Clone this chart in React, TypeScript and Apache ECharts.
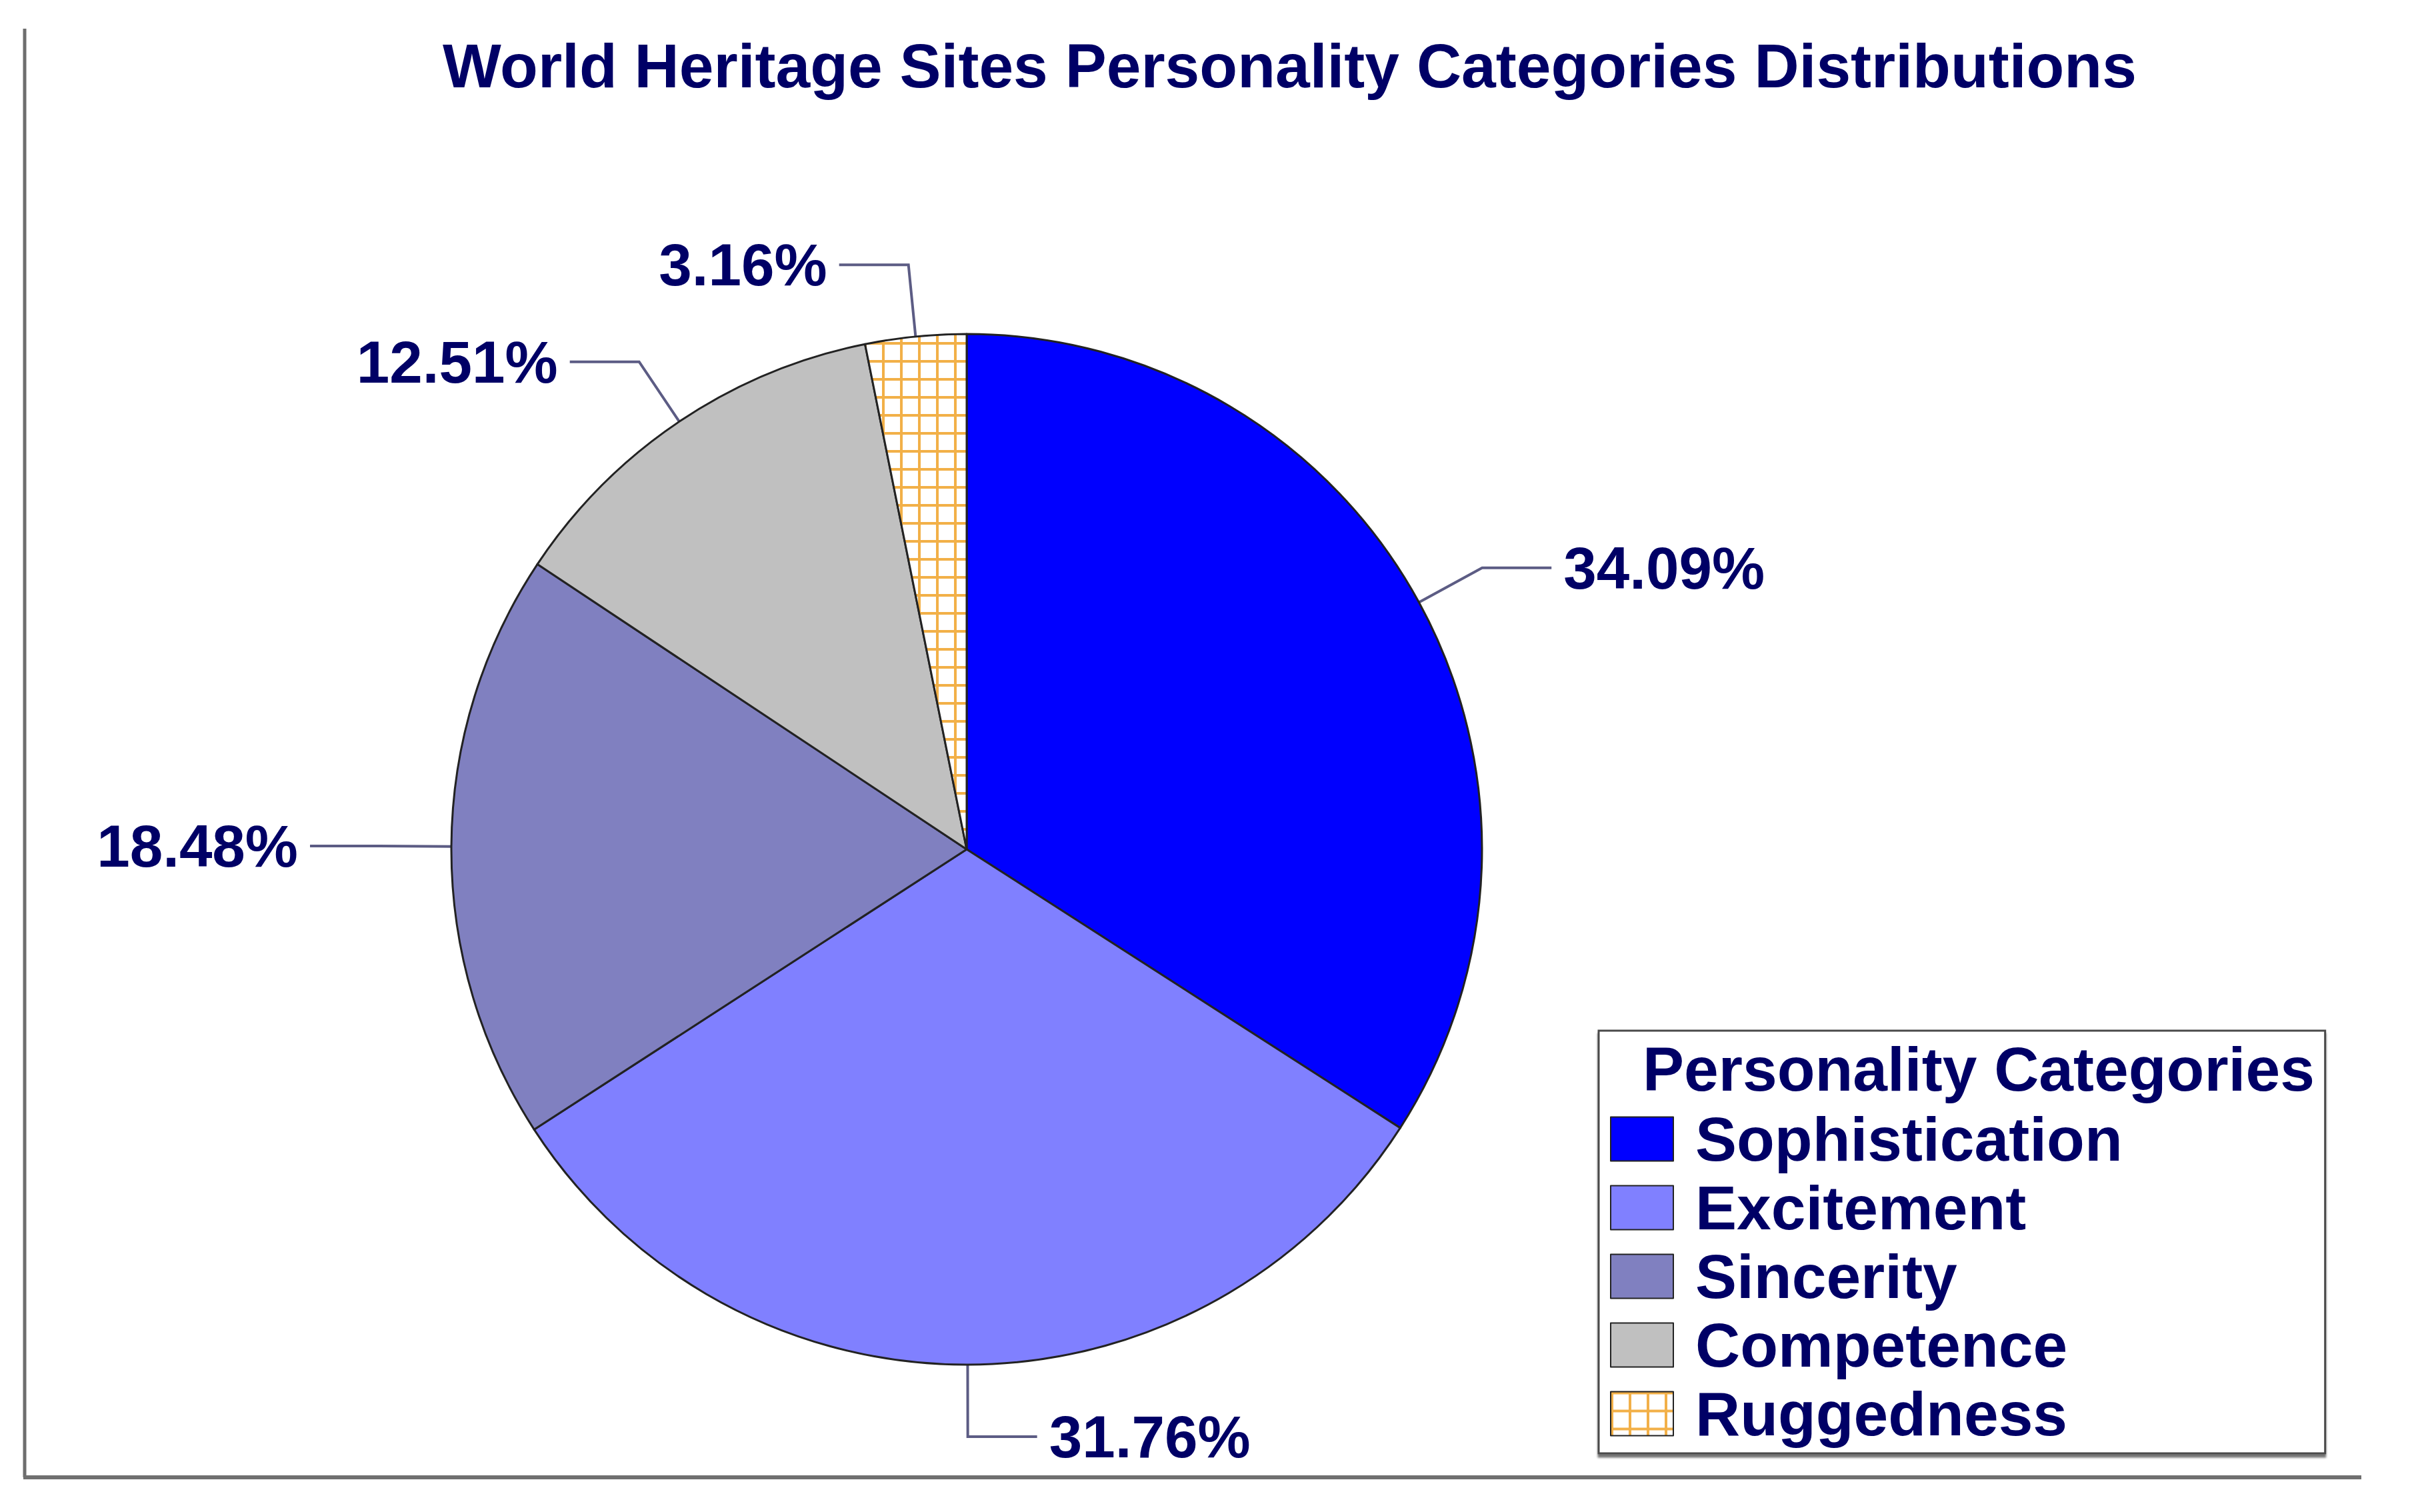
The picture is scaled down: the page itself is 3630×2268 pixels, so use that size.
import React, { useEffect, useRef } from "react";
import * as echarts from "echarts";

const categories = ["Sophistication", "Excitement", "Sincerity", "Competence", "Ruggedness"];
const percentages = [34.09, 31.76, 18.48, 12.51, 3.16];
const sliceColors = ["#0000FF", "#8080FF", "#8080C0", "#C0C0C0", null];
const chartTitle = "World Heritage Sites Personality Categories Distributions";
const legendTitle = "Personality Categories";

const NAVY = "#000066";
const FONT = '"Liberation Sans", Arial, sans-serif';

function makeGridPattern() {
  const size = 27;
  const c = document.createElement("canvas");
  c.width = size;
  c.height = size;
  const ctx = c.getContext("2d")!;
  ctx.fillStyle = "#ffffff";
  ctx.fillRect(0, 0, size, size);
  ctx.fillStyle = "#F2B048";
  ctx.fillRect(0, 0, 4, size);
  ctx.fillRect(0, 0, size, 4);
  return { image: c, repeat: "repeat", imageWidth: size, imageHeight: size };
}

export default function App() {
  const ref = useRef<HTMLDivElement>(null);
  useEffect(() => {
    if (!ref.current) return;
    const chart = echarts.init(ref.current, null, { renderer: "svg" });
    const pattern = makeGridPattern();
    const data = categories.map((name, i) => ({
      name,
      value: percentages[i],
      itemStyle: { color: sliceColors[i] ?? (pattern as any) },
    }));
    chart.setOption({
      animation: false,
      backgroundColor: "#ffffff",
      title: [
        {
          text: chartTitle,
          left: 664,
          top: 52,
          padding: 0,
          textStyle: { color: NAVY, fontSize: 93, fontWeight: "bold", fontFamily: FONT },
        },
        {
          text: legendTitle,
          left: 2464,
          top: 1557,
          padding: 0,
          z: 5,
          textStyle: { color: NAVY, fontSize: 93, fontWeight: "bold", fontFamily: FONT },
        },
      ],
      legend: {
        orient: "vertical",
        left: 2398,
        top: 1546,
        height: 700,
        padding: [116, 304, 13, 17],
        itemWidth: 94,
        itemHeight: 66,
        itemGap: 10,
        icon: "rect",
        selectedMode: false,
        borderColor: "#4a4a4a",
        borderWidth: 3,
        backgroundColor: "#ffffff",
        shadowColor: "rgba(0,0,0,0.55)",
        shadowOffsetX: 0,
        shadowOffsetY: 5,
        shadowBlur: 3,
        z: 1,
        textStyle: {
          color: NAVY,
          fontSize: 93,
          fontWeight: "bold",
          fontFamily: FONT,
          padding: [0, 0, 0, 28],
        },
        data: categories,
      },
      graphic: [
        {
          type: "line",
          shape: { x1: 37, y1: 43, x2: 37, y2: 2216 },
          style: { stroke: "#6e6e6e", lineWidth: 5 },
          silent: true,
        },
        {
          type: "line",
          shape: { x1: 35, y1: 2216, x2: 3542, y2: 2216 },
          style: { stroke: "#707070", lineWidth: 6 },
          silent: true,
        },
      ],
      series: [
        {
          type: "pie",
          center: [1450, 1274],
          radius: 773,
          startAngle: 90,
          clockwise: true,
          avoidLabelOverlap: false,
          emphasis: { disabled: true },
          itemStyle: { borderColor: "#222222", borderWidth: 3 },
          label: {
            show: true,
            position: "outside",
            formatter: (p: any) => p.value.toFixed(2) + "%",
            color: NAVY,
            fontSize: 89,
            fontWeight: "bold",
            fontFamily: FONT,
            distanceToLabelLine: 18,
          },
          labelLine: {
            show: true,
            length: 108,
            length2: 104,
            smooth: false,
            lineStyle: { color: "#5c5c84", width: 4 },
          },
          data,
        },
      ],
    });
    return () => chart.dispose();
  }, []);
  return (
    <div
      ref={ref}
      style={{ position: "fixed", left: 0, top: 0, width: 3630, height: 2268, background: "#fff" }}
    />
  );
}
